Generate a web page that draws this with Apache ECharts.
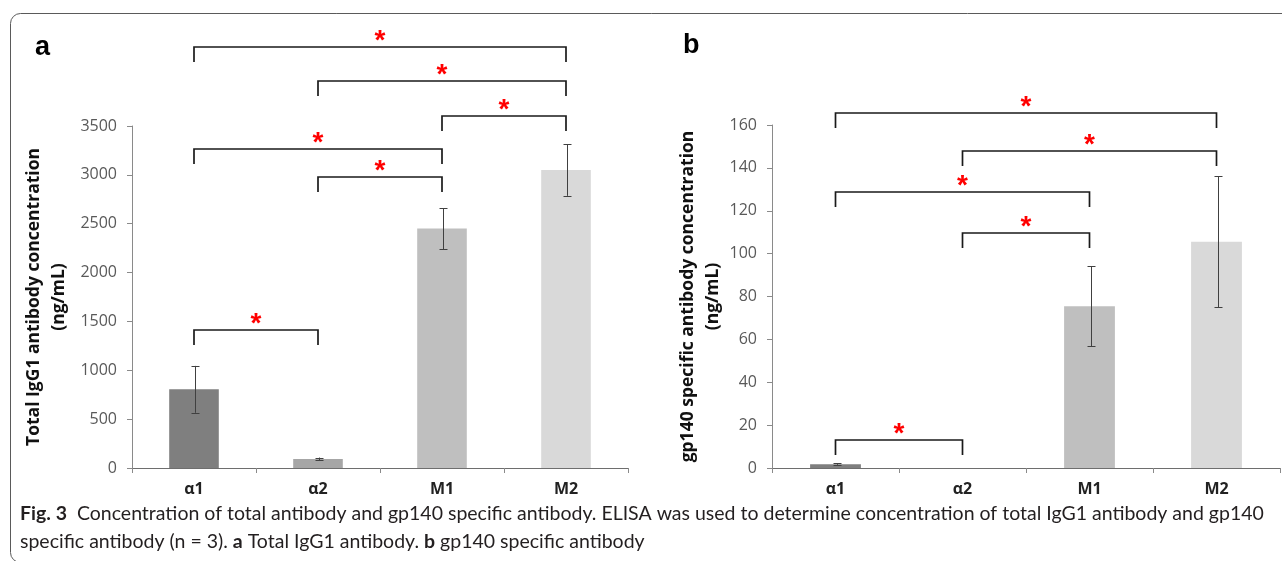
<!DOCTYPE html>
<html><head><meta charset="utf-8">
<script src="https://cdn.jsdelivr.net/npm/echarts@6/dist/echarts.min.js"></script>
<style>html,body{margin:0;padding:0;background:#fff}#c{width:1282px;height:561px}</style>
</head><body><div id="c"></div>
<script>
// ---- data ----
const categories = ['α1', 'α2', 'M1', 'M2'];
const barColors = ['#7f7f7f', '#a6a6a6', '#bfbfbf', '#d9d9d9'];
const totalIgG1 = [805, 92, 2450, 3050];
const totalIgG1Err = [240, 15, 210, 265];
const gp140 = [1.8, 0, 75.5, 105.5];
const gp140Err = [0.3, 0, 18.7, 30.5];
const yTicksA = [0, 500, 1000, 1500, 2000, 2500, 3000, 3500];
const yTicksB = [0, 20, 40, 60, 80, 100, 120, 140, 160];
// significance brackets: [fromIndex, toIndex, bracket level in data units]
const bracketsA = [[0, 3, 4308], [1, 3, 3961], [2, 3, 3602], [0, 2, 3265], [1, 2, 2978], [0, 1, 1412]];
const bracketsB = [[0, 3, 165.6], [1, 3, 148.0], [0, 2, 128.7], [1, 2, 109.6], [0, 1, 13.1]];
const titleA = 'Total IgG1 antibody concentration\n(ng/mL)';
const titleB = 'gp140 specific antibody concentration\n(ng/mL)';
const caption = '{b|Fig. 3}  Concentration of total antibody and gp140 specific antibody. ELISA was used to determine concentration of total IgG1 antibody and gp140\nspecific antibody (n = 3). {b|a} Total IgG1 antibody. {b|b} gp140 specific antibody';

// ---- helpers ----
const LINE = '#1a1a1a';
function errRender(params, api) {
  const i = api.value(0), lo = api.value(1), hi = api.value(2);
  if (hi - lo <= 0) return;
  const t = api.coord([i, hi]), b = api.coord([i, lo]);
  const x = Math.round(t[0]) + 1.5, w = 4;
  const st = { stroke: '#404040', lineWidth: 1 };
  return { type: 'group', children: [
    { type: 'line', shape: { x1: x, y1: t[1], x2: x, y2: b[1] }, style: st },
    { type: 'line', shape: { x1: x - w, y1: Math.round(t[1]) + 0.5, x2: x + w, y2: Math.round(t[1]) + 0.5 }, style: st },
    { type: 'line', shape: { x1: x - w, y1: Math.round(b[1]) + 0.5, x2: x + w, y2: Math.round(b[1]) + 0.5 }, style: st }
  ]};
}
function bracketRender(params, api) {
  const a = api.coord([api.value(0), api.value(2)]);
  const b = api.coord([api.value(1), api.value(2)]);
  const y = Math.round(a[1]);
  const leg = 15;
  return { type: 'group', children: [
    { type: 'polyline', shape: { points: [[a[0], y + leg], [a[0], y], [b[0], y], [b[0], y + leg]] },
      style: { stroke: LINE, lineWidth: 1.7, fill: null } },
    { type: 'text', x: (a[0] + b[0]) / 2, y: y - 6,
      style: { text: '*', fill: '#ff0000', font: 'bold 28px "Liberation Sans"', align: 'center', verticalAlign: 'middle' } }
  ]};
}
function errData(v, e) { return v.map((x, i) => [i, x - e[i], x + e[i]]); }
function barData(v) { return v.map((x, i) => ({ value: x, itemStyle: { color: barColors[i] } })); }

function xAxisOf(idx) {
  return { type: 'category', gridIndex: idx, data: categories,
    axisLine: { show: true, lineStyle: { color: '#6e6e6e', width: 1 } },
    axisTick: { show: true, length: 5, interval: 0, lineStyle: { color: '#8a8a8a' } },
    axisLabel: { margin: 13, fontFamily: 'Open Sans', fontWeight: 'bold', fontSize: 16, color: '#222' } };
}
function yAxisOf(idx, ticks, name, gap) {
  return { type: 'value', gridIndex: idx, min: ticks[0], max: ticks[ticks.length - 1], interval: ticks[1] - ticks[0],
    name: name, nameLocation: 'middle', nameRotate: 90, nameGap: gap,
    nameTextStyle: { fontFamily: 'Open Sans', fontWeight: 'bold', fontSize: 17.5, color: '#111', lineHeight: 25 },
    axisLine: { show: true, lineStyle: { color: '#8a8a8a', width: 1 } },
    axisTick: { show: true, length: 5, lineStyle: { color: '#8a8a8a' } },
    splitLine: { show: false },
    axisLabel: { margin: 15, fontFamily: 'Open Sans', fontSize: 16, color: '#595959', formatter: v => String(v) } };
}

const chart = echarts.init(document.getElementById('c'), null, { renderer: 'canvas' });
chart.setOption({
  animation: false,
  backgroundColor: '#fff',
  grid: [
    { left: 132, top: 126, width: 496, height: 342 },
    { left: 772, top: 125, width: 508, height: 343 }
  ],
  xAxis: [xAxisOf(0), xAxisOf(1)],
  yAxis: [yAxisOf(0, yTicksA, titleA, 60), yAxisOf(1, yTicksB, titleB, 42)],
  series: [
    { type: 'bar', xAxisIndex: 0, yAxisIndex: 0, barWidth: '40%', data: barData(totalIgG1) },
    { type: 'custom', xAxisIndex: 0, yAxisIndex: 0, renderItem: errRender, data: errData(totalIgG1, totalIgG1Err), z: 5 },
    { type: 'custom', xAxisIndex: 0, yAxisIndex: 0, renderItem: bracketRender, data: bracketsA, clip: false, z: 6 },
    { type: 'bar', xAxisIndex: 1, yAxisIndex: 1, barWidth: '40%', data: barData(gp140) },
    { type: 'custom', xAxisIndex: 1, yAxisIndex: 1, renderItem: errRender, data: errData(gp140, gp140Err), z: 5 },
    { type: 'custom', xAxisIndex: 1, yAxisIndex: 1, renderItem: bracketRender, data: bracketsB, clip: false, z: 6 }
  ],
  graphic: [
    { type: 'rect', shape: { x: 10.5, y: 13.5, width: 1300, height: 549, r: 10 }, style: { fill: null, stroke: '#5a5a5a', lineWidth: 1 } },
    { type: 'text', x: 35, y: 48, style: { text: 'a', font: 'bold 27px "Liberation Sans"', fill: '#000', verticalAlign: 'middle' } },
    { type: 'text', x: 683, y: 46, style: { text: 'b', font: 'bold 27px "Liberation Sans"', fill: '#000', verticalAlign: 'middle' } },
    { type: 'text', x: 20, y: 500, style: { text: caption, font: '19.5px Lato', fill: '#231f20', lineHeight: 28,
        rich: { b: { fontWeight: 'bold', fontFamily: 'Lato', fontSize: 19.5, fill: '#231f20' } } } }
  ]
});
</script>
</body></html>
